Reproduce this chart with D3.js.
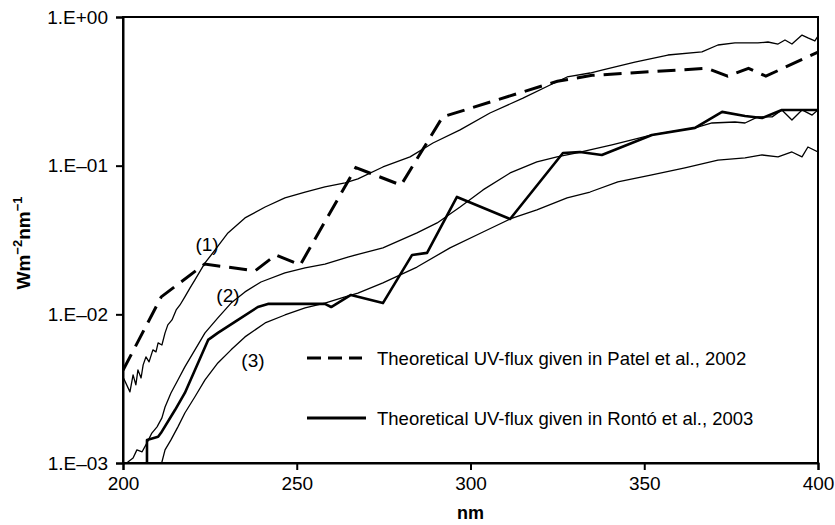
<!DOCTYPE html>
<html>
<head>
<meta charset="utf-8">
<script src="https://cdn.jsdelivr.net/npm/d3@7"></script>
<style>
  html, body { margin: 0; padding: 0; background: #fff; }
  svg { display: block; }
  text { font-family: "Liberation Sans", Arial, sans-serif; fill: #000; }
</style>
</head>
<body>
<svg id="chart" width="835" height="525"></svg>
<script>
// ---------- data (wavelength nm, flux W m^-2 nm^-1) ----------
const curve1 = [
  [200.0,0.00379],[202.0,0.00301],[202.9,0.00392],[203.7,0.00335],[204.3,0.00423],
  [205.2,0.00373],[205.8,0.00457],[206.6,0.00517],[207.5,0.00479],[208.6,0.00577],
  [209.5,0.00559],[210.1,0.00642],[211.2,0.00622],[212.1,0.0075],[212.9,0.00849],
  [214.1,0.00917],[215.3,0.0107],[216.4,0.01156],[217.8,0.0131],[219.3,0.01506],
  [220.7,0.01704],[223.6,0.0222],[226.5,0.0271],[230.2,0.0353],[235.1,0.0445],
  [240.9,0.0527],[246.6,0.0607],[252.4,0.0665],[258.1,0.0719],[263.9,0.0765],
  [267.6,0.0814],[274.8,0.098],[282.6,0.1145],[289.2,0.142],[297.0,0.174],
  [305.6,0.226],[315.1,0.285],[322.9,0.349],[327.8,0.395],[334.4,0.42],
  [337.8,0.44],[347.3,0.498],[356.8,0.555],[366.6,0.582],[371.2,0.648],
  [376.1,0.669],[382.7,0.669],[385.6,0.679],[388.5,0.658],[390.5,0.70],
  [392.5,0.658],[395.4,0.756],[397.1,0.723],[399.1,0.69],[400.0,0.745]
];
const curve2 = [
  [201.0,0.00095],[201.4,0.001016],[202.9,0.00108],[204.0,0.001225],[205.5,0.00119],
  [206.9,0.001365],[208.3,0.00159],[209.8,0.00175],[211.2,0.00201],[212.1,0.00238],
  [213.8,0.00296],[215.8,0.00362],[217.8,0.00443],[220.7,0.00577],[223.6,0.0075],
  [227.3,0.00946],[231.1,0.0119],[235.1,0.01415],[239.7,0.0165],[246.6,0.019],
  [252.4,0.0205],[258.1,0.0218],[264.7,0.0243],[274.8,0.028],[284.6,0.0353],
  [290.4,0.0412],[297.0,0.0527],[303.6,0.0687],[311.4,0.0893],[319.1,0.106],
  [324.9,0.1145],[330.6,0.1217],[340.7,0.138],[352.2,0.161],[364.6,0.1795],
  [369.5,0.1937],[376.1,0.1967],[379.0,0.1937],[382.7,0.213],[386.8,0.213],
  [389.6,0.237],[392.5,0.203],[395.4,0.237],[398.3,0.219],[400.0,0.237]
];
const curve3 = [
  [211.0,0.00095],[211.2,0.001016],[212.1,0.001225],[213.8,0.00143],[215.8,0.00175],
  [217.8,0.00217],[220.7,0.00279],[223.6,0.00362],[227.3,0.00471],[231.1,0.00577],
  [235.1,0.00705],[240.9,0.00875],[246.6,0.0099],[252.4,0.01104],[258.1,0.0119],
  [263.9,0.0131],[267.6,0.0139],[274.8,0.0163],[284.6,0.0208],[294.1,0.028],
  [303.6,0.0358],[311.4,0.0438],[319.1,0.0504],[327.8,0.0607],[334.4,0.0665],
  [342.4,0.0777],[352.2,0.0866],[361.7,0.0966],[371.2,0.109],[379.0,0.1127],
  [383.9,0.118],[388.5,0.1145],[392.5,0.1236],[395.4,0.1145],[397.1,0.1336],
  [400.0,0.1236]
];
const patel = [
  [200.0,0.0042],[211.0,0.0131],[223.5,0.0218],[238.0,0.0196],[244.0,0.0251],
  [251.0,0.0215],[267.0,0.097],[280.0,0.074],[292.0,0.213],[325.0,0.37],
  [335.0,0.405],[368.0,0.452],[374.0,0.40],[380.0,0.452],[385.0,0.40],[400.0,0.58]
];
const ronto = [
  [206.9,0.00095],[206.9,0.00143],[210.1,0.0015],[210.9,0.00159],[215.0,0.00228],
  [217.8,0.00296],[224.5,0.00673],[227.3,0.0075],[232.2,0.0089],[238.8,0.0112],
  [241.7,0.01175],[258.1,0.01175],[259.9,0.0112],[265.6,0.0135],[274.8,0.0119],
  [283.2,0.0251],[287.5,0.0259],[296.1,0.0616],[311.4,0.0438],[326.6,0.1217],
  [331.5,0.1236],[337.8,0.118],[352.2,0.161],[364.6,0.1795],[372.4,0.23],
  [379.0,0.216],[383.9,0.209],[389.6,0.237],[400.0,0.237]
];
const xTicks = [200, 250, 300, 350, 400];
const yTicks = [0.001, 0.01, 0.1, 1];
const yTickLabels = ["1.E\u201303", "1.E\u201302", "1.E\u201301", "1.E+00"];
const curveLabels = [["(1)", 224.2, 0.0267], ["(2)", 230.2, 0.0121], ["(3)", 237.4, 0.00443]];
const legendItems = ["Theoretical UV-flux given in Patel et al., 2002",
                     "Theoretical UV-flux given in Rontó et al., 2003"];

// ---------- layout ----------
const L = 123, R = 818, T = 17, B = 463;
const svg = d3.select("#chart");
const x = d3.scaleLinear().domain([200, 400]).range([L, R]);
const y = d3.scaleLog().domain([0.001, 1]).range([B, T]);

svg.append("defs").append("clipPath").attr("id", "clip")
  .append("rect").attr("x", L).attr("y", T).attr("width", R - L).attr("height", B - T);

const line = d3.line().x(d => x(d[0])).y(d => y(d[1]));
const plot = svg.append("g").attr("clip-path", "url(#clip)");

[curve1, curve2, curve3].forEach(c => {
  plot.append("path").attr("d", line(c)).attr("fill", "none")
    .attr("stroke", "#000").attr("stroke-width", 1.3).attr("stroke-linejoin", "round");
});
plot.append("path").attr("d", line(ronto)).attr("fill", "none")
  .attr("stroke", "#000").attr("stroke-width", 2.6).attr("stroke-linejoin", "round");
plot.append("path").attr("d", line(patel)).attr("fill", "none")
  .attr("stroke", "#000").attr("stroke-width", 3).attr("stroke-dasharray", "18,9");

// frame
svg.append("rect").attr("x", L).attr("y", T).attr("width", R - L).attr("height", B - T)
  .attr("fill", "none").attr("stroke", "#000").attr("stroke-width", 2);

// axes
const yAxis = d3.axisLeft(y).tickValues(yTicks).tickSize(7).tickPadding(8)
  .tickFormat((d, i) => yTickLabels[i]);
const gy = svg.append("g").attr("transform", `translate(${L},0)`).call(yAxis);
const xAxis = d3.axisBottom(x).tickValues(xTicks).tickSize(7).tickPadding(7)
  .tickFormat(d3.format("d"));
const gx = svg.append("g").attr("transform", `translate(0,${B})`).call(xAxis);
[gx, gy].forEach(g => {
  g.select(".domain").attr("stroke", "#000").attr("stroke-width", 2);
  g.selectAll(".tick line").attr("stroke", "#000").attr("stroke-width", 2);
  g.selectAll(".tick text").attr("font-family", "Liberation Sans, Arial, sans-serif")
    .attr("font-size", 19).attr("fill", "#000");
});

// axis titles
svg.append("text").attr("x", x(300)).attr("y", 519).attr("text-anchor", "middle")
  .attr("font-size", 18).attr("font-weight", "bold").text("nm");
const yt = svg.append("text").attr("transform", "translate(30,243) rotate(-90)")
  .attr("text-anchor", "middle").attr("font-size", 19).attr("font-weight", "bold");
yt.append("tspan").text("Wm");
yt.append("tspan").attr("dy", -8).attr("font-size", 13).text("\u22122");
yt.append("tspan").attr("dy", 8).text("nm");
yt.append("tspan").attr("dy", -8).attr("font-size", 13).text("\u22121");

// curve labels
curveLabels.forEach(([t, nm, v]) => {
  svg.append("text").attr("x", x(nm)).attr("y", y(v)).attr("text-anchor", "middle")
    .attr("font-size", 19).text(t);
});

// legend
const lg = svg.append("g");
const ly = [358, 418];
lg.append("line").attr("x1", 307).attr("x2", 362).attr("y1", ly[0]).attr("y2", ly[0])
  .attr("stroke", "#000").attr("stroke-width", 3).attr("stroke-dasharray", "14,7");
lg.append("line").attr("x1", 307).attr("x2", 366).attr("y1", ly[1]).attr("y2", ly[1])
  .attr("stroke", "#000").attr("stroke-width", 3);
legendItems.forEach((t, i) => {
  lg.append("text").attr("x", 377).attr("y", ly[i] + 6.5).attr("font-size", 18.5).text(t);
});
</script>
</body>
</html>
